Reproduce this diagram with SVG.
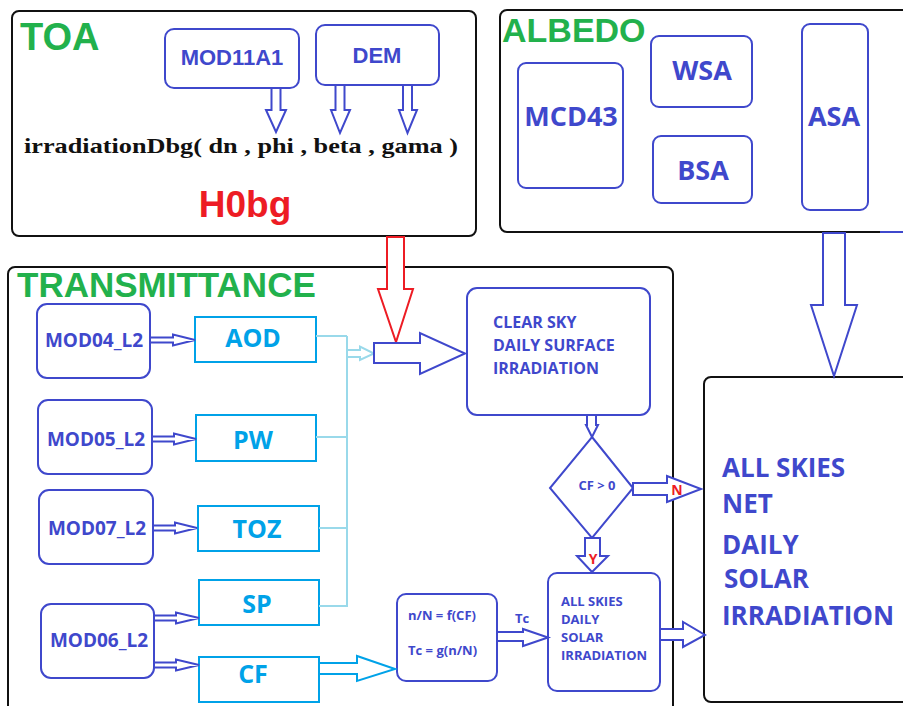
<svg xmlns="http://www.w3.org/2000/svg" width="903" height="706" viewBox="0 0 903 706">
<style>
.frame{fill:none;stroke:#111;stroke-width:2}
.bnode{fill:none;stroke:#3f48cc;stroke-width:2}
.cnode{fill:none;stroke:#00a2e8;stroke-width:2}
.title{font-family:"Liberation Sans",Arial,sans-serif;font-weight:bold;fill:#22b14c}
.arial{font-family:"Liberation Sans",Arial,sans-serif;font-weight:bold;fill:#3f48cc}
.os{font-family:"Open Sans","DejaVu Sans",sans-serif;font-weight:bold;fill:#3f48cc}
.osc{font-family:"Open Sans","DejaVu Sans",sans-serif;font-weight:bold;fill:#00a2e8}
.red{fill:#ed1c24}
.mid{text-anchor:middle}
.barrow{fill:#fff;stroke:#3f48cc;stroke-width:2;stroke-linejoin:miter}
.carrow{fill:#fff;stroke:#00a2e8;stroke-width:2}
.larrow{fill:#fff;stroke:#99d9ea;stroke-width:2}
.rarrow{fill:#fff;stroke:#ed1c24;stroke-width:2}
.bus{fill:none;stroke:#99d9ea;stroke-width:2}
</style>
<rect width="903" height="706" fill="#fff"/>
<g id="toa">
<rect class="frame" x="12" y="11" width="464" height="225" rx="7"/>
<text class="title" x="20" y="50" font-size="38">TOA</text>
<text x="24" y="153" font-family="'Liberation Serif','Times New Roman',serif" font-weight="bold" font-size="22" fill="#111" textLength="434" lengthAdjust="spacingAndGlyphs">irradiationDbg( dn , phi , beta , gama )</text>
<text class="title red mid" x="245" y="217" font-size="37">H0bg</text>
</g>
<g id="mod11a1">
<rect class="bnode" x="165" y="29" width="134" height="59" rx="9"/>
<text class="arial mid" x="232" y="65" font-size="22">MOD11A1</text>
</g>
<g id="dem">
<rect class="bnode" x="316" y="25" width="123" height="60" rx="9"/>
<text class="arial mid" x="377" y="63" font-size="22">DEM</text>
</g>
<g id="albedo">
<rect class="frame" x="500" y="10" width="430" height="222" rx="7"/>
<text class="title" x="502" y="42" font-size="34">ALBEDO</text>
</g>
<g id="mcd43">
<rect class="bnode" x="518" y="63" width="105" height="125" rx="8"/>
<text class="os mid" x="571" y="126" font-size="27">MCD43</text>
</g>
<g id="wsa">
<rect class="bnode" x="651" y="36" width="101" height="71" rx="8"/>
<text class="os mid" x="702" y="80" font-size="27">WSA</text>
</g>
<g id="bsa">
<rect class="bnode" x="653" y="136" width="99" height="67" rx="8"/>
<text class="os mid" x="703" y="180" font-size="27">BSA</text>
</g>
<g id="asa">
<rect class="bnode" x="802" y="24" width="66" height="186" rx="8"/>
<text class="os mid" x="834" y="126" font-size="27">ASA</text>
</g>
<g id="transmittance">
<rect class="frame" x="8" y="267" width="665" height="470" rx="7"/>
<text class="title" x="17" y="297" font-size="35">TRANSMITTANCE</text>
</g>
<g id="mod04">
<rect class="bnode" x="37" y="304" width="113" height="74" rx="10"/>
<text class="os mid" x="94" y="347" font-size="19">MOD04_L2</text>
</g>
<g id="mod05">
<rect class="bnode" x="38" y="400" width="114" height="74" rx="10"/>
<text class="os mid" x="96" y="446" font-size="19">MOD05_L2</text>
</g>
<g id="mod07">
<rect class="bnode" x="39" y="490" width="114" height="74" rx="10"/>
<text class="os mid" x="97" y="535" font-size="19">MOD07_L2</text>
</g>
<g id="mod06">
<rect class="bnode" x="41" y="604" width="113" height="74" rx="10"/>
<text class="os mid" x="99" y="647" font-size="19">MOD06_L2</text>
</g>
<g id="aod">
<rect class="cnode" x="195" y="317" width="121" height="45"/>
<text class="osc mid" x="253" y="347" font-size="25">AOD</text>
</g>
<g id="pw">
<rect class="cnode" x="196" y="415" width="120" height="46"/>
<text class="osc mid" x="253" y="449" font-size="25">PW</text>
</g>
<g id="toz">
<rect class="cnode" x="198" y="506" width="121" height="45"/>
<text class="osc mid" x="257" y="538" font-size="25">TOZ</text>
</g>
<g id="sp">
<rect class="cnode" x="199" y="580" width="120" height="45"/>
<text class="osc mid" x="257" y="613" font-size="25">SP</text>
</g>
<g id="cf">
<rect class="cnode" x="199" y="657" width="120" height="45"/>
<text class="osc mid" x="253" y="683" font-size="25">CF</text>
</g>
<g id="clearsky">
<rect class="bnode" x="467" y="288" width="183" height="127" rx="10"/>
<text class="os" x="493" y="328" font-size="16">CLEAR SKY</text>
<text class="os" x="493" y="351" font-size="16">DAILY SURFACE</text>
<text class="os" x="493" y="374" font-size="16">IRRADIATION</text>
</g>
<g id="decision">
<polygon class="bnode" points="592,437 633,488 592,538 550,488"/>
<text class="os mid" x="597" y="490" font-size="13">CF &gt; 0</text>
</g>
<g id="nN">
<rect class="bnode" x="397" y="594" width="100" height="87" rx="9"/>
<text class="os" x="408" y="620" font-size="13">n/N = f(CF)</text>
<text class="os" x="408" y="655" font-size="13">Tc = g(n/N)</text>
</g>
<g id="allskies">
<rect class="bnode" x="548" y="573" width="112" height="118" rx="9"/>
<text class="os" x="561" y="606" font-size="13">ALL SKIES</text>
<text class="os" x="561" y="624" font-size="13">DAILY</text>
<text class="os" x="561" y="642" font-size="13">SOLAR</text>
<text class="os" x="561" y="660" font-size="13">IRRADIATION</text>
</g>
<g id="net">
<rect class="frame" x="704" y="377" width="230" height="325" rx="7"/>
<text class="os" x="722" y="477" font-size="26">ALL SKIES</text>
<text class="os" x="722" y="513" font-size="26">NET</text>
<text class="os" x="722" y="554" font-size="26">DAILY</text>
<text class="os" x="724" y="588" font-size="26">SOLAR</text>
<text class="os" x="722" y="625" font-size="26">IRRADIATION</text>
</g>
<g id="connectors">
<polygon class="barrow" points="271.5,88 280.5,88 280.5,110 286,110 276,132 266,110 271.5,110"/>
<polygon class="barrow" points="335.5,85 344.5,85 344.5,110 350,110 340,133 331,110 335.5,110"/>
<polygon class="barrow" points="403,85 412,85 412,110 417,110 407.5,133 399,110 403,110"/>
<polygon class="rarrow" points="387,237 404,237 404,289 413,289 396,342 378,289 387,289"/>
<polyline class="bus" points="316,336 347,336"/>
<polyline class="bus" points="316,437 347,437"/>
<polyline class="bus" points="319,528 347,528"/>
<polyline class="bus" points="319,606 347,606 347,336"/>
<polygon class="larrow" points="347,350 360,350 360,346.5 374,353.5 360,360 360,357 347,357"/>
<polygon class="barrow" points="374,343 420,343 420,333 465,353.5 420,374 420,363 374,363"/>
<polygon class="barrow" points="150,337.5 173,337.5 173,334.5 195,340 173,345.5 173,342.5 150,342.5"/>
<polygon class="barrow" points="152,436.5 174,436.5 174,433.5 196,439 174,444.5 174,441.5 152,441.5"/>
<polygon class="barrow" points="153,525.5 175,525.5 175,522.5 197,528 175,533.5 175,530.5 153,530.5"/>
<polygon class="barrow" points="154,615.5 176,615.5 176,612.5 199,618 176,623.5 176,620.5 154,620.5"/>
<polygon class="barrow" points="154,662.5 176,662.5 176,659.5 199,665 176,670.5 176,667.5 154,667.5"/>
<polygon class="carrow" points="319,663 357,663 357,656 395,669 357,681 357,674 319,674"/>
<polygon class="barrow" points="497,632 523,632 523,629 548,637.5 523,646 523,641 497,641"/>
<text class="os mid" x="522" y="623" font-size="13">Tc</text>
<polygon class="barrow" points="587,415 596,415 596,425 598,425 592,437 586,425 587,425"/>
<polygon class="barrow" points="633,483 667,483 667,476 701,489 667,502 667,495 633,495"/>
<text class="os red mid" x="677" y="495" font-size="14">N</text>
<polygon class="barrow" points="585,538 600,538 600,556 608,556 592,572 577,556 585,556"/>
<text class="os red mid" x="593" y="564" font-size="14">Y</text>
<polygon class="barrow" points="660,629 683,629 683,622 705,635 683,647 683,640 660,640"/>
<polygon class="barrow" points="823,233 845,233 845,305 857,305 834,376 811,305 823,305"/>
<line x1="880" y1="232" x2="903" y2="232" stroke="#3f48cc" stroke-width="2"/>
</g>
</svg>
